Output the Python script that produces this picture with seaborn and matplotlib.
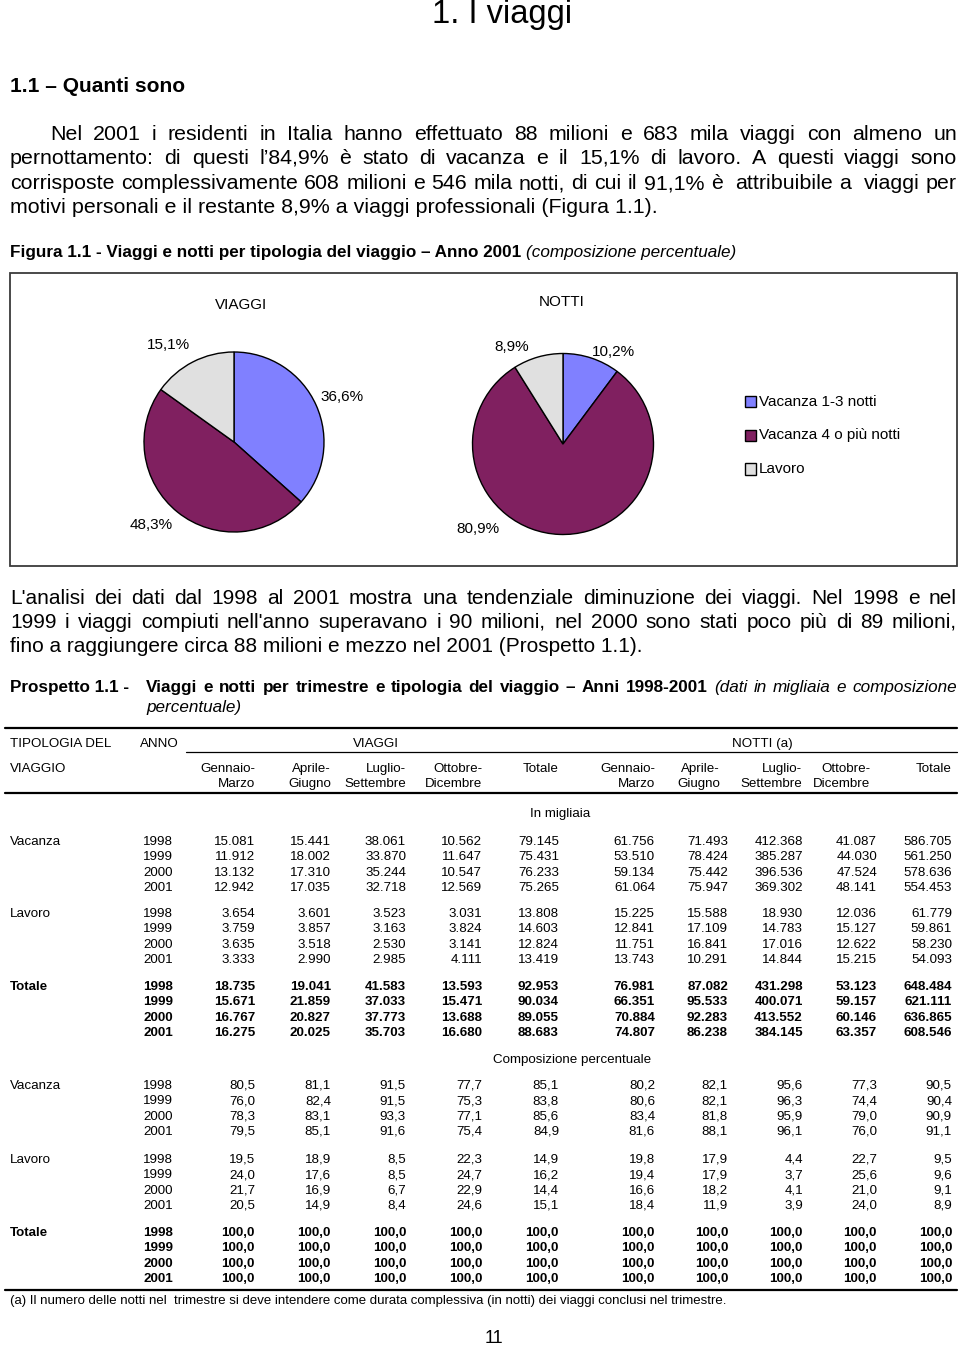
import matplotlib
matplotlib.use("Agg")
import matplotlib.pyplot as plt
from matplotlib.patches import Rectangle
from matplotlib.lines import Line2D
import numpy as np
import seaborn as sns

# ------------------------------------------------------------------ data
pie_labels = ["Vacanza 1-3 notti", "Vacanza 4 o più notti", "Lavoro"]
viaggi_pct_2001 = [36.6, 48.3, 15.1]
notti_pct_2001 = [10.2, 80.9, 8.9]
pie_colors = ["#8080FF", "#802060", "#E0E0E0"]

years = ["1998", "1999", "2000", "2001"]
categories = ["Vacanza", "Lavoro", "Totale"]
col_head_1 = ["Gennaio-", "Aprile-", "Luglio-", "Ottobre-", "Totale"]
col_head_2 = ["Marzo", "Giugno", "Settembre", "Dicembre", ""]

# in migliaia: 4 trimestri + totale
vacanza_viaggi = [[15081, 15441, 38061, 10562, 79145],
                  [11912, 18002, 33870, 11647, 75431],
                  [13132, 17310, 35244, 10547, 76233],
                  [12942, 17035, 32718, 12569, 75265]]
vacanza_notti = [[61756, 71493, 412368, 41087, 586705],
                 [53510, 78424, 385287, 44030, 561250],
                 [59134, 75442, 396536, 47524, 578636],
                 [61064, 75947, 369302, 48141, 554453]]
lavoro_viaggi = [[3654, 3601, 3523, 3031, 13808],
                 [3759, 3857, 3163, 3824, 14603],
                 [3635, 3518, 2530, 3141, 12824],
                 [3333, 2990, 2985, 4111, 13419]]
lavoro_notti = [[15225, 15588, 18930, 12036, 61779],
                [12841, 17109, 14783, 15127, 59861],
                [11751, 16841, 17016, 12622, 58230],
                [13743, 10291, 14844, 15215, 54093]]
totale_viaggi = [[18735, 19041, 41583, 13593, 92953],
                 [15671, 21859, 37033, 15471, 90034],
                 [16767, 20827, 37773, 13688, 89055],
                 [16275, 20025, 35703, 16680, 88683]]
totale_notti = [[76981, 87082, 431298, 53123, 648484],
                [66351, 95533, 400071, 59157, 621111],
                [70884, 92283, 413552, 60146, 636865],
                [74807, 86238, 384145, 63357, 608546]]

# composizione percentuale
vacanza_viaggi_pct = [[80.5, 81.1, 91.5, 77.7, 85.1],
                      [76.0, 82.4, 91.5, 75.3, 83.8],
                      [78.3, 83.1, 93.3, 77.1, 85.6],
                      [79.5, 85.1, 91.6, 75.4, 84.9]]
vacanza_notti_pct = [[80.2, 82.1, 95.6, 77.3, 90.5],
                     [80.6, 82.1, 96.3, 74.4, 90.4],
                     [83.4, 81.8, 95.9, 79.0, 90.9],
                     [81.6, 88.1, 96.1, 76.0, 91.1]]
lavoro_viaggi_pct = [[19.5, 18.9, 8.5, 22.3, 14.9],
                     [24.0, 17.6, 8.5, 24.7, 16.2],
                     [21.7, 16.9, 6.7, 22.9, 14.4],
                     [20.5, 14.9, 8.4, 24.6, 15.1]]
lavoro_notti_pct = [[19.8, 17.9, 4.4, 22.7, 9.5],
                    [19.4, 17.9, 3.7, 25.6, 9.6],
                    [16.6, 18.2, 4.1, 21.0, 9.1],
                    [18.4, 11.9, 3.9, 24.0, 8.9]]
totale_viaggi_pct = [[100.0, 100.0, 100.0, 100.0, 100.0]] * 4
totale_notti_pct = [[100.0, 100.0, 100.0, 100.0, 100.0]] * 4

# ------------------------------------------------------------------ style
sns.set_theme(style="white")
plt.rcParams["font.family"] = ["Liberation Sans", "DejaVu Sans"]
plt.rcParams["text.color"] = "black"

W, H = 960, 1345
fig = plt.figure(figsize=(W / 100, H / 100), dpi=100)
fig.patch.set_facecolor("white")
renderer = fig.canvas.get_renderer()


def txt(x, y, s, **kw):
    kw.setdefault("va", "baseline")
    kw.setdefault("ha", "left")
    kw.setdefault("color", "black")
    return fig.text(x / W, 1 - y / H, s, **kw)


def width(s, **kw):
    if not s:
        return 0.0
    t = fig.text(0, 0, s, **kw)
    w = t.get_window_extent(renderer=renderer).width
    t.remove()
    return w


def fit_size(s, target, **kw):
    return 10.0 * target / width(s, fontsize=10, **kw)


def justify(items, x0, x1, yb, **kw):
    widths = [width(w, **{**kw, **e}) for w, e in items]
    gap = (x1 - x0 - sum(widths)) / (len(items) - 1)
    x = x0
    for (w, e), wd in zip(items, widths):
        if w:
            txt(x, yb, w, **{**kw, **e})
        x += wd + gap


def hline(x0, x1, y, lw):
    fig.add_artist(Line2D([x0 / W, x1 / W], [1 - y / H, 1 - y / H],
                          transform=fig.transFigure, color="black", lw=lw))


# ------------------------------------------------------------------ title & text
ts = fit_size("1. I viaggi", 140)
txt(502, 23, "1. I viaggi", fontsize=ts, ha="center")

hs = fit_size("1.1 – Quanti sono", 175, fontweight="bold")
txt(10, 92, "1.1 – Quanti sono", fontsize=hs, fontweight="bold")

p1 = ["Nel 2001 i residenti in Italia hanno effettuato 88 milioni e 683 mila viaggi con almeno un",
      "pernottamento: di questi l’84,9% è stato di vacanza e il 15,1% di lavoro. A questi viaggi sono",
      "corrisposte complessivamente 608 milioni e 546 mila notti, di cui il 91,1% è  attribuibile a  viaggi per",
      "motivi personali e il restante 8,9% a viaggi professionali (Figura 1.1)."]
p2 = ["L'analisi dei dati dal 1998 al 2001 mostra una tendenziale diminuzione dei viaggi. Nel 1998 e nel",
      "1999 i viaggi compiuti nell'anno superavano i 90 milioni, nel 2000 sono stati poco più di 89 milioni,",
      "fino a raggiungere circa 88 milioni e mezzo nel 2001 (Prospetto 1.1)."]


def paragraph(lines, starts, ybs, last_w):
    s = fit_size(lines[-1], last_w)
    # keep justified lines from overflowing
    for ln, x0 in zip(lines[:-1], starts[:-1]):
        nat = width(ln, fontsize=s)
        if nat > (957 - x0) * 0.985:
            s = s * (957 - x0) * 0.985 / nat
    for ln, x0, yb in zip(lines[:-1], starts[:-1], ybs[:-1]):
        justify([(w, {}) for w in ln.split(" ")], x0, 957, yb, fontsize=s)
    txt(starts[-1], ybs[-1], lines[-1], fontsize=s)


paragraph(p1, [50, 10, 10, 10], [140, 164, 189, 213], 663)
paragraph(p2, [10, 10, 10], [604, 628, 652], 635)

cap_b = "Figura 1.1 - Viaggi e notti per tipologia del viaggio – Anno 2001"
cs = fit_size(cap_b, 512, fontweight="bold")
txt(10, 257, cap_b, fontsize=cs, fontweight="bold")
txt(10 + width(cap_b + " ", fontsize=cs, fontweight="bold"), 257,
    "(composizione percentuale)", fontsize=cs, fontstyle="italic")

# ------------------------------------------------------------------ figure 1.1 (pies)
fig.add_artist(Rectangle((10 / W, 1 - 566 / H), 947 / W, 293 / H, transform=fig.transFigure,
                         fill=False, edgecolor="#3a3a3a", lw=1.3))


def draw_pie(cx, cy, r, values, label_pos):
    s = 1.6 * r
    ax = fig.add_axes([(cx - s) / W, 1 - (cy + s) / H, 2 * s / W, 2 * s / H])
    wedges, texts, autotexts = ax.pie(
        values, colors=pie_colors, startangle=90, counterclock=False, radius=1.0,
        autopct=lambda p: f"{p:.1f}%".replace(".", ","), pctdistance=1.3,
        wedgeprops=dict(edgecolor="black", linewidth=1.0),
        textprops=dict(fontsize=11, color="black"))
    ax.set_xlim(-1.6, 1.6)
    ax.set_ylim(-1.6, 1.6)
    ax.set_aspect("equal")
    ax.axis("off")
    for t, (ang, d) in zip(autotexts, label_pos):
        a = np.radians(ang)
        t.set_position((d * np.cos(a), d * np.sin(a)))
        t.set_ha("center")
        t.set_va("center")
    return wedges


draw_pie(234, 442, 90, viaggi_pct_2001, [(22.6, 1.30), (-135, 1.30), (124.2, 1.30)])
draw_pie(563, 444, 90.5, notti_pct_2001, [(61.3, 1.165), (-135.3, 1.33), (118.2, 1.21)])

txt(241, 309, "VIAGGI", fontsize=11, ha="center")
txt(562, 306, "NOTTI", fontsize=11, ha="center")

for lab, col, yc in zip(pie_labels, pie_colors, [402, 435.5, 469]):
    fig.add_artist(Rectangle((745 / W, 1 - (yc + 5.5) / H), 11 / W, 11 / H,
                             transform=fig.transFigure, facecolor=col,
                             edgecolor="black", lw=1.0))
    txt(759, yc, lab, fontsize=11, va="center")

# ------------------------------------------------------------------ prospetto
ps = cs
txt(10, 692, "Prospetto 1.1 -", fontsize=ps, fontweight="bold")
bold_part = "Viaggi e notti per trimestre e tipologia del viaggio – Anni 1998-2001"
ital_part = "(dati in migliaia e composizione"
items = [(w, {"fontweight": "bold"}) for w in bold_part.split(" ")] + \
        [(w, {"fontstyle": "italic"}) for w in ital_part.split(" ")]
justify(items, 146, 957, 692, fontsize=ps)
txt(146, 712, "percentuale)", fontsize=ps, fontstyle="italic")

fs = 9.6
hline(5, 957, 728, 1.6)
hline(186, 957, 752, 0.9)
hline(5, 957, 793, 1.6)
hline(5, 957, 1290, 1.6)

txt(10, 747, "TIPOLOGIA DEL", fontsize=fs)
txt(140, 747, "ANNO", fontsize=fs)
txt(376, 747, "VIAGGI", fontsize=fs, ha="center")
txt(762, 747, "NOTTI (a)", fontsize=fs, ha="center")
txt(10, 772, "VIAGGIO", fontsize=fs)

hdr_right = [255, 331, 406, 482, 559, 655, 720, 802, 870, 952]
col_right = [255, 331, 406, 482, 559, 655, 728, 803, 877, 952]
for i, xr in enumerate(hdr_right):
    txt(xr, 772, col_head_1[i % 5], fontsize=fs, ha="right")
    if col_head_2[i % 5]:
        txt(xr, 787, col_head_2[i % 5], fontsize=fs, ha="right")

txt(560, 817, "In migliaia", fontsize=fs, ha="center")
txt(572, 1063, "Composizione percentuale", fontsize=fs, ha="center")


def fmt_int(v):
    return f"{v:,}".replace(",", ".")


def fmt_pct(v):
    return f"{v:.1f}".replace(".", ",")


def block(cat, y0, left, right, fmt, bold):
    kw = dict(fontsize=fs, fontweight="bold" if bold else "normal")
    txt(10, y0, cat, **kw)
    for r in range(4):
        yb = y0 + 15.3 * r
        txt(173, yb, years[r], ha="right", **kw)
        vals = list(left[r]) + list(right[r])
        for v, xr in zip(vals, col_right):
            txt(xr, yb, fmt(v), ha="right", **kw)


block(categories[0], 845, vacanza_viaggi, vacanza_notti, fmt_int, False)
block(categories[1], 917, lavoro_viaggi, lavoro_notti, fmt_int, False)
block(categories[2], 990, totale_viaggi, totale_notti, fmt_int, True)
block(categories[0], 1089, vacanza_viaggi_pct, vacanza_notti_pct, fmt_pct, False)
block(categories[1], 1163, lavoro_viaggi_pct, lavoro_notti_pct, fmt_pct, False)
block(categories[2], 1236, totale_viaggi_pct, totale_notti_pct, fmt_pct, True)

foot = ("(a) Il numero delle notti nel  trimestre si deve intendere come durata complessiva "
        "(in notti) dei viaggi conclusi nel trimestre.")
txt(10, 1304, foot, fontsize=fit_size(foot, 722))
txt(494, 1343, "11", fontsize=13, ha="center")

fig.savefig("out.png", dpi=100, facecolor="white")
